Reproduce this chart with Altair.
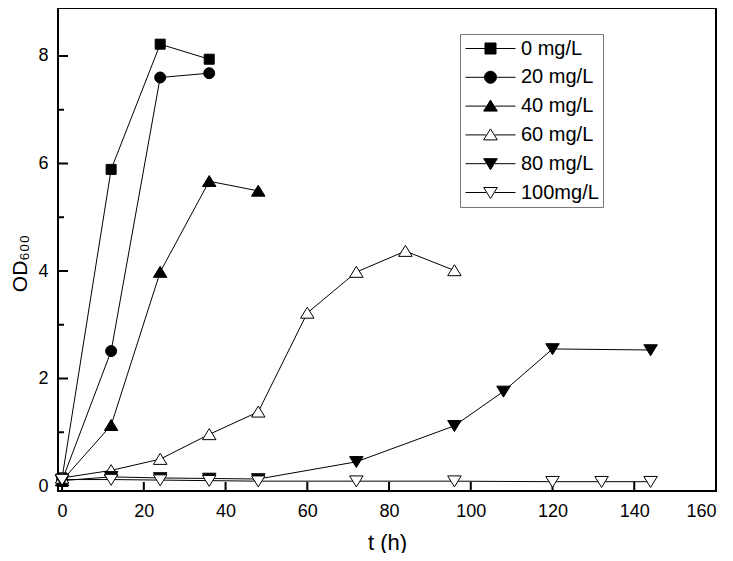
import altair as alt
import pandas as pd

series_names = ["0 mg/L", "20 mg/L", "40 mg/L", "60 mg/L", "80 mg/L", "100mg/L"]

t_0 = [0, 12, 24, 36]
od_0 = [0.15, 5.89, 8.22, 7.94]
t_20 = [0, 12, 24, 36]
od_20 = [0.10, 2.51, 7.60, 7.68]
t_40 = [0, 12, 24, 36, 48]
od_40 = [0.10, 1.13, 3.98, 5.67, 5.49]
t_60 = [0, 12, 24, 36, 48, 60, 72, 84, 96]
od_60 = [0.15, 0.29, 0.50, 0.96, 1.38, 3.22, 3.98, 4.37, 4.01]
t_80 = [0, 12, 24, 36, 48, 72, 96, 108, 120, 144]
od_80 = [0.10, 0.17, 0.15, 0.14, 0.13, 0.45, 1.12, 1.76, 2.55, 2.53]
t_100 = [0, 12, 24, 36, 48, 72, 96, 120, 132, 144]
od_100 = [0.12, 0.12, 0.11, 0.10, 0.09, 0.09, 0.09, 0.08, 0.08, 0.08]

x_ticks = [0, 20, 40, 60, 80, 100, 120, 140, 160]
y_major = [0, 2, 4, 6, 8]
y_minor = [1, 3, 5, 7]

rows = []
for name, ts, vs in zip(series_names,
                        [t_0, t_20, t_40, t_60, t_80, t_100],
                        [od_0, od_20, od_40, od_60, od_80, od_100]):
    for t, v in zip(ts, vs):
        rows.append({"series": name, "t": t, "od": v})
df = pd.DataFrame(rows)

FONT = "Liberation Sans"
W, H = 658, 483
xdom = [-1, 160]
ydom = [-0.093, 8.893]

sq = "M-1,-1H1V1H-1Z"
ci = "M-1.1,0A1.1,1.1 0 1,1 1.1,0A1.1,1.1 0 1,1 -1.1,0Z"
tu = "M0,-1.15L1.35,1.05H-1.35Z"
td = "M0,1.15L1.35,-1.05H-1.35Z"
plot_shapes = [sq, ci, tu, tu, td, td]

ln = "M-2.5,0H-0.45M0.45,0H2.5"
lsq = ln + "M-0.55,-0.55H0.55V0.55H-0.55Z"
lci = ln + "M-0.6,0A0.6,0.6 0 1,1 0.6,0A0.6,0.6 0 1,1 -0.6,0Z"
ltu = ln + "M0,-0.6L0.68,0.5H-0.68Z"
ltd = ln + "M0,0.6L0.68,-0.5H-0.68Z"
legend_shapes = [lsq, lci, ltu, ltu, ltd, ltd]

fills = ["black", "black", "black", "white", "black", "white"]
strokes = ["black"] * 6

xs = alt.Scale(domain=xdom, nice=False, zero=False)
ys = alt.Scale(domain=ydom, nice=False, zero=False)

x_axis = alt.Axis(
    orient="bottom", values=x_ticks, ticks=False, domain=False, grid=False,
    format="d",
    labelFont=FONT, labelFontSize=18, labelColor="black", labelPadding=11,
    title="t (h)", titleFont=FONT, titleFontSize=22, titleFontWeight="normal",
    titleColor="black", titlePadding=12)
y_axis = alt.Axis(
    orient="left", values=y_major, ticks=False, domain=False, grid=False,
    format="d",
    labelFont=FONT, labelFontSize=18, labelColor="black", labelPadding=10,
    title="OD₆₀₀", titleFont=FONT, titleFontSize=21, titleFontWeight="normal",
    titleColor="black", titleX=-32, titleY=255, titleAngle=270,
    titleAlign="center", titleBaseline="alphabetic")

lines = alt.Chart(df).mark_line(color="black", strokeWidth=1).encode(
    x=alt.X("t:Q", scale=xs, axis=x_axis),
    y=alt.Y("od:Q", scale=ys, axis=y_axis),
    detail="series:N",
)

xt = alt.Chart(pd.DataFrame({"t": x_ticks})).mark_rule(color="black", strokeWidth=2).encode(
    x=alt.X("t:Q", scale=xs),
    y=alt.value(H), y2=alt.value(H - 9),
)
ytM = alt.Chart(pd.DataFrame({"od": y_major})).mark_rule(color="black", strokeWidth=2).encode(
    y=alt.Y("od:Q", scale=ys),
    x=alt.value(0), x2=alt.value(10),
)
ytm = alt.Chart(pd.DataFrame({"od": y_minor})).mark_rule(color="black", strokeWidth=2).encode(
    y=alt.Y("od:Q", scale=ys),
    x=alt.value(0), x2=alt.value(6),
)

points = alt.Chart(df).mark_point(filled=True, stroke="black", strokeWidth=1, size=100, opacity=1).encode(
    x=alt.X("t:Q", scale=xs, axis=x_axis),
    y=alt.Y("od:Q", scale=ys, axis=y_axis),
    shape=alt.Shape("series:N", scale=alt.Scale(domain=series_names, range=plot_shapes), legend=None),
    fill=alt.Fill("series:N", scale=alt.Scale(domain=series_names, range=fills), legend=None),
)

leg = alt.Legend(
    orient="none", legendX=402, legendY=26, title=None, padding=4,
    strokeColor="#777777", fillColor="white", symbolSize=400,
    symbolStrokeWidth=1, symbolStrokeColor="black", symbolOffset=16,
    labelFont=FONT, labelFontSize=20, labelColor="black", labelOffset=20,
    rowPadding=7.8, labelLimit=200,
)

legend_layer = alt.Chart(df).transform_filter("false").mark_point(
    filled=True, strokeWidth=1, opacity=1).encode(
    shape=alt.Shape("series:N", scale=alt.Scale(domain=series_names, range=legend_shapes), legend=leg),
    fill=alt.Fill("series:N", scale=alt.Scale(domain=series_names, range=fills), legend=leg),
    stroke=alt.Stroke("series:N", scale=alt.Scale(domain=series_names, range=strokes), legend=leg),
)

chart = alt.layer(lines, xt, ytM, ytm, points, legend_layer).resolve_scale(
    shape="independent", fill="independent", stroke="independent"
).properties(
    width=W, height=H,
    autosize=alt.AutoSizeParams(type="none"),
    padding={"left": 50, "top": 0, "right": 9, "bottom": 62},
).configure_view(stroke="black", strokeWidth=2)

chart.save("out.html", embed_options={"renderer": "svg", "actions": False})
